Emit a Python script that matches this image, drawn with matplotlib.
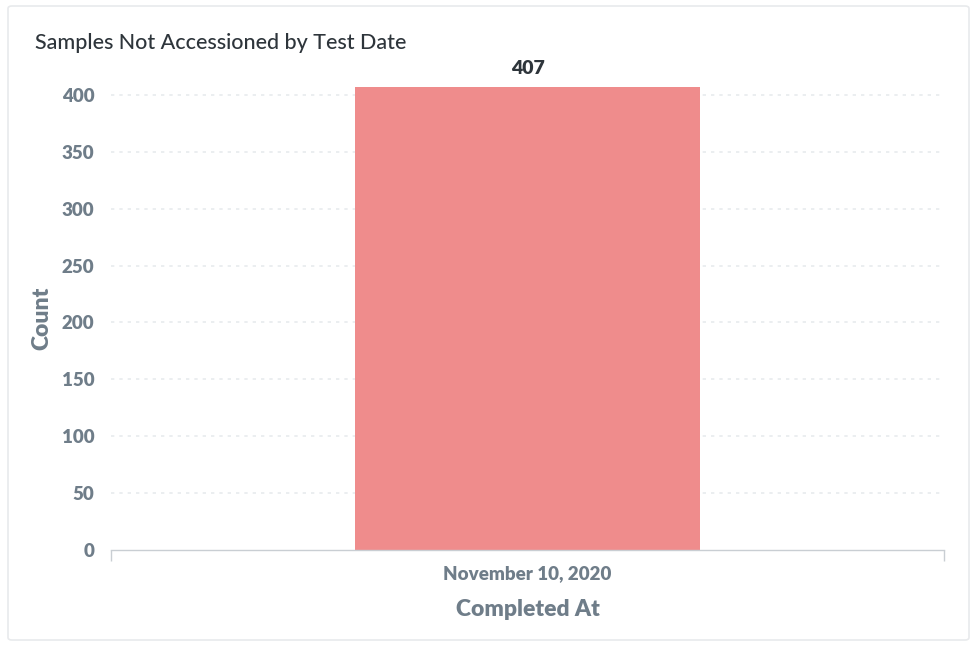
import matplotlib.pyplot as plt
from matplotlib.patches import FancyBboxPatch

# Datos
categories = ["November 10, 2020"]
counts = [407]
y_ticks = [0, 50, 100, 150, 200, 250, 300, 350, 400]

TITLE = "Samples Not Accessioned by Test Date"
X_LABEL = "Completed At"
Y_LABEL = "Count"

BAR_COLOR = "#EF8C8C"
TICK_COLOR = "#6F7D89"
TEXT_DARK = "#2E353B"
GRID_COLOR = "#E8EBEE"

plt.rcParams["font.family"] = ["Lato", "DejaVu Sans"]

fig = plt.figure(figsize=(9.72, 6.45), dpi=100)

# Tarjeta de fondo
card = FancyBboxPatch((8 / 972, 5 / 645), 961 / 972, 634 / 645,
                      boxstyle="round,pad=0,rounding_size=0.004",
                      transform=fig.transFigure, facecolor="white",
                      edgecolor="#E8EAEC", linewidth=1.2, zorder=-10)
fig.patches.append(card)

ax = fig.add_axes([111 / 972, 1 - 550 / 645, 833 / 972, 463 / 645])
ax.set_facecolor("none")
ax.set_zorder(5)

x = list(range(len(categories)))
bars = ax.bar(x, counts, width=0.415, color=BAR_COLOR, zorder=2)

ax.set_xlim(-0.5, len(categories) - 0.5)
ax.set_ylim(0, max(counts))
ax.set_yticks(y_ticks)
ax.set_yticklabels([str(t) for t in y_ticks])
ax.set_xticks(x)
ax.set_xticklabels(categories)

# Rejilla punteada
for t in y_ticks[1:]:
    ax.axhline(t, color=GRID_COLOR, linestyle=(0, (2, 3)), linewidth=1.2, zorder=1)

for side in ["top", "right", "left"]:
    ax.spines[side].set_visible(False)
ax.spines["bottom"].set_color("#C9CED3")
ax.spines["bottom"].set_linewidth(1.0)

ax.tick_params(axis="y", length=0, pad=12, labelsize=13.5, labelcolor=TICK_COLOR)
ax.tick_params(axis="x", length=0, pad=11, labelsize=13.5, labelcolor=TICK_COLOR)
for lbl in ax.get_yticklabels() + ax.get_xticklabels():
    lbl.set_fontweight("heavy")

# Marcas en los extremos del eje x
ax.set_xticks([-0.5, len(categories) - 0.5], minor=True)
ax.tick_params(axis="x", which="minor", length=8, color="#C9CED3", width=1.0)

# Valor sobre la barra
for bar, c in zip(bars, counts):
    ax.text(bar.get_x() + bar.get_width() / 2, bar.get_height() + 9, str(c),
            ha="center", va="bottom", fontsize=14, fontweight="heavy",
            color=TEXT_DARK)

ax.set_xlabel(X_LABEL, fontsize=16.5, fontweight="heavy", color=TICK_COLOR, labelpad=12)
ax.set_ylabel(Y_LABEL, fontsize=16.5, fontweight="heavy", color=TICK_COLOR, labelpad=7)

fig.text(35 / 972, 1 - 43 / 645, TITLE, ha="left", va="center",
         fontsize=15.5, color=TEXT_DARK, fontweight="medium")

fig.savefig("out.png", dpi=100)
